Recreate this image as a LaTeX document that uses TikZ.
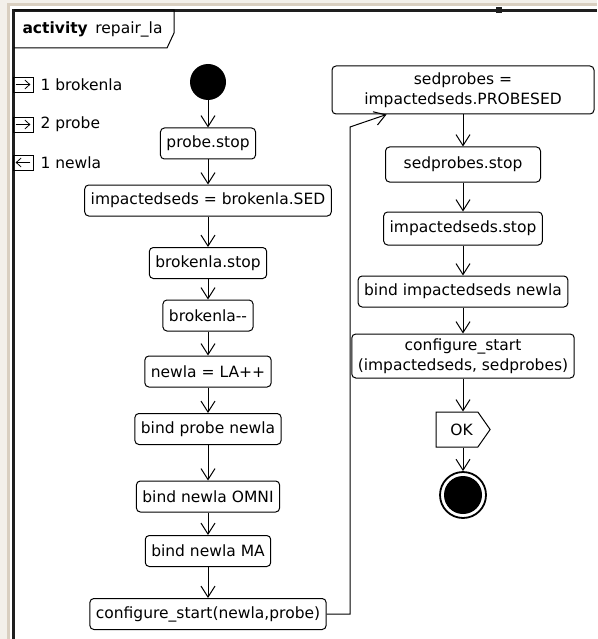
\documentclass[tikz,border=0pt]{standalone}
\usepackage{fontspec}
\setmainfont{DejaVu Sans}
\usetikzlibrary{arrows.meta, shapes.symbols, calc}
\definecolor{winbeige}{HTML}{D9CFC0}
\definecolor{winlight}{HTML}{F3F0EA}
\definecolor{framegray}{HTML}{1E1E1E}

\begin{document}
\begin{tikzpicture}[x=1pt, y=-1pt, >={Straight Barb[length=11pt,width=14pt]},
  font=\fontsize{15.5}{19.5}\selectfont,
  act/.style={draw, line width=1pt, rounded corners=4pt, inner xsep=6pt, inner ysep=2pt,
    minimum height=31pt, align=center},
  flow/.style={->, line width=1pt},
  parbox/.style={draw, line width=0.8pt, minimum width=20pt, minimum height=15pt, inner sep=0pt}]
\useasboundingbox (0,0) rectangle (597,639);
% window edge and frame
\fill[winlight] (0,0) rectangle (597,3);
\fill[winlight] (0,0) rectangle (7,639);
\fill[winbeige] (7,3) rectangle (597,6);
\fill[winbeige] (7,3) rectangle (9.5,639);
\draw[framegray, line width=2.5pt] (13.5,10.5) -- (597,10.5);
\draw[framegray, line width=2.5pt] (13.5,9.5) -- (13.5,639);
\fill[framegray] (495.5,7) rectangle (501.5,13);
\draw[line width=1pt] (14,10) -- (174,10) -- (174,33) -- (167,48) -- (14,48);
\node[anchor=west] (title) at (19,29) {\textbf{activity}\, repair\_la};

% parameters
\node[parbox] (p1) at (23,84.5) {};
\node[parbox] (p2) at (23,124.5) {};
\node[parbox] (p3) at (23,162.5) {};
\draw[->, >={Straight Barb[length=5pt,width=9pt]}, line width=0.8pt] ([xshift=3pt]p1.west) -- ([xshift=-3pt]p1.east);
\draw[->, >={Straight Barb[length=5pt,width=9pt]}, line width=0.8pt] ([xshift=3pt]p2.west) -- ([xshift=-3pt]p2.east);
\draw[->, >={Straight Barb[length=5pt,width=9pt]}, line width=0.8pt] ([xshift=-3pt]p3.east) -- ([xshift=3pt]p3.west);
\node[anchor=west] (l1) at (37,84.5) {1 brokenla};
\node[anchor=west] (l2) at (37,124.5) {2 probe};
\node[anchor=west] (l3) at (37,162.5) {1 newla};

% left column
\node[circle, fill, minimum size=36pt, inner sep=0pt] (start) at (208,82) {};
\node[act] (pstop) at (208,143.5) {probe.stop};
\node[act] (imp) at (208,200.5) {impactedseds = brokenla.SED};
\node[act] (bstop) at (208,263) {brokenla.stop};
\node[act] (bdec) at (208,315.5) {brokenla-{}-};
\node[act] (newla) at (208,371.5) {newla = LA++};
\node[act] (bpn) at (208,429) {bind probe newla};
\node[act] (bno) at (208,496.5) {bind newla OMNI};
\node[act] (bnm) at (208,551) {bind newla MA};
\node[act] (cfgl) at (208,614) {configure\_start(newla,probe)};

% right column
\node[act, minimum height=48pt, minimum width=262pt] (sedp) at (463,90) {sedprobes =\\impactedseds.PROBESED};
\node[act, minimum height=35pt, minimum width=155pt] (sstop) at (463,164.5) {sedprobes.stop};
\node[act, minimum height=33pt] (istop) at (463,228.5) {impactedseds.stop};
\node[act] (bin) at (463,291.5) {bind impactedseds newla};
\node[act, minimum height=44pt] (cfgr) at (463,356) {configure\_start\\(impactedseds, sedprobes)};
\node[signal, signal to=east, signal pointer angle=110, draw, line width=1pt,
  minimum width=54pt, minimum height=35pt, inner sep=0pt] (ok) at (457,429.5) {\hspace{9pt}OK};
\node[circle, draw, line width=1.8pt, minimum size=46pt, inner sep=0pt] (fin) at (463,495) {};
\fill (fin.center) circle (19pt);

\draw[flow] (start) -- (pstop);
\draw[flow] (pstop) -- (imp);
\draw[flow] (imp) -- (bstop);
\draw[flow] (bstop) -- (bdec);
\draw[flow] (bdec) -- (newla);
\draw[flow] (newla) -- (bpn);
\draw[flow] (bpn) -- (bno);
\draw[flow] (bno) -- (bnm);
\draw[flow] (bnm) -- (cfgl);
\coordinate (turn) at (350,127);
\draw[flow] (cfgl.east) -| (turn) -- ($(sedp.south west)+(55,0)$);
\draw[flow] (sedp) -- (sstop);
\draw[flow] (sstop) -- (istop);
\draw[flow] (istop) -- (bin);
\draw[flow] (bin) -- (cfgr);
\draw[flow] (cfgr) -- (cfgr |- ok.north);
\draw[flow] (ok.south -| fin) -- (fin);
\end{tikzpicture}
\end{document}
